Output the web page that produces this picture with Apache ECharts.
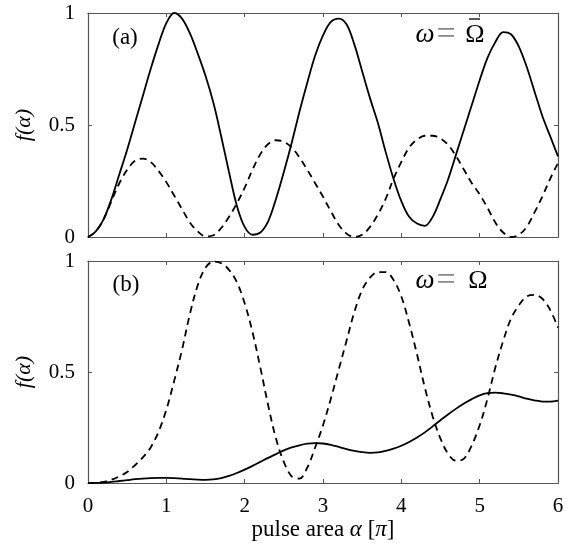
<!DOCTYPE html>
<html>
<head>
<meta charset="utf-8">
<script src="https://cdn.jsdelivr.net/npm/echarts@6/dist/echarts.min.js"></script>
<style>
  html, body { margin: 0; padding: 0; background: #fff; }
  #chart { width: 575px; height: 543px; }
</style>
</head>
<body>
<div id="chart"></div>
<script>
// pulse area alpha in units of pi, sampled every 0.1
var alphaVals = [0.0, 0.1, 0.2, 0.3, 0.4, 0.5, 0.6, 0.7, 0.8, 0.9,
  1.0, 1.1, 1.2, 1.3, 1.4, 1.5, 1.6, 1.7, 1.8, 1.9,
  2.0, 2.1, 2.2, 2.3, 2.4, 2.5, 2.6, 2.7, 2.8, 2.9,
  3.0, 3.1, 3.2, 3.3, 3.4, 3.5, 3.6, 3.7, 3.8, 3.9,
  4.0, 4.1, 4.2, 4.3, 4.4, 4.5, 4.6, 4.7, 4.8, 4.9,
  5.0, 5.1, 5.2, 5.3, 5.4, 5.5, 5.6, 5.7, 5.8, 5.9, 6.0];

// panel (a): omega = Omega-bar
var solidA = [0, 0.025, 0.08, 0.17, 0.28, 0.39, 0.51, 0.63, 0.75, 0.86,
  0.955, 1.00, 0.975, 0.91, 0.82, 0.72, 0.60, 0.45, 0.29, 0.14,
  0.045, 0.01, 0.02, 0.07, 0.17, 0.29, 0.42, 0.56, 0.69, 0.81,
  0.90, 0.96, 0.975, 0.95, 0.86, 0.74, 0.62, 0.51, 0.38, 0.26,
  0.16, 0.09, 0.06, 0.05, 0.09, 0.17, 0.26, 0.37, 0.48, 0.59,
  0.70, 0.80, 0.87, 0.915, 0.905, 0.85, 0.76, 0.65, 0.54, 0.45, 0.36];
var dashedA = [0, 0.025, 0.08, 0.16, 0.24, 0.30, 0.34, 0.35, 0.335, 0.295,
  0.245, 0.185, 0.125, 0.065, 0.025, 0.003, 0.008, 0.04, 0.09, 0.15,
  0.22, 0.30, 0.37, 0.415, 0.432, 0.425, 0.40, 0.355, 0.30, 0.24,
  0.18, 0.115, 0.055, 0.015, 0.0, 0.01, 0.045, 0.10, 0.17, 0.26,
  0.335, 0.40, 0.435, 0.452, 0.452, 0.44, 0.41, 0.36, 0.30, 0.24,
  0.19, 0.13, 0.065, 0.02, 0.0, 0.01, 0.045, 0.11, 0.18, 0.26, 0.33];

// panel (b): omega = Omega
var solidB = [0, 0.0005, 0.002, 0.005, 0.009, 0.013, 0.017, 0.02, 0.022, 0.023,
  0.023, 0.022, 0.02, 0.017, 0.015, 0.014, 0.016, 0.022, 0.032, 0.045,
  0.06, 0.077, 0.095, 0.113, 0.13, 0.147, 0.16, 0.17, 0.177, 0.18,
  0.178, 0.172, 0.163, 0.153, 0.145, 0.139, 0.136, 0.138, 0.145, 0.155,
  0.168, 0.185, 0.205, 0.228, 0.255, 0.283, 0.31, 0.335, 0.358, 0.378,
  0.395, 0.405, 0.407, 0.404, 0.398, 0.39, 0.38, 0.372, 0.367, 0.367, 0.371];
var dashedB = [0, 0.001, 0.005, 0.015, 0.03, 0.05, 0.08, 0.115, 0.16, 0.23,
  0.33, 0.46, 0.60, 0.76, 0.89, 0.97, 0.997, 0.99, 0.96, 0.905,
  0.81, 0.68, 0.52, 0.35, 0.20, 0.095, 0.03, 0.02, 0.07, 0.16,
  0.26, 0.38, 0.51, 0.64, 0.77, 0.87, 0.925, 0.95, 0.95, 0.915,
  0.84, 0.72, 0.58, 0.43, 0.30, 0.20, 0.13, 0.10, 0.11, 0.17,
  0.26, 0.38, 0.52, 0.64, 0.74, 0.80, 0.84, 0.847, 0.83, 0.78, 0.70];

var xTicks = [0, 1, 2, 3, 4, 5, 6];
var yTicks = [0, 0.5, 1];

var font = 'Liberation Serif';
var frameColor = '#555';

function pairs(ys) {
  return alphaVals.map(function (x, i) { return [x, ys[i]]; });
}

function xAx(grid, pos, showLabel) {
  return {
    type: 'value', gridIndex: grid, position: pos,
    min: xTicks[0], max: xTicks[xTicks.length - 1], interval: 1,
    axisLine: { show: true, onZero: false, lineStyle: { color: frameColor, width: 1.2 } },
    axisTick: { show: true, inside: true, length: 4, lineStyle: { color: frameColor } },
    axisLabel: { show: showLabel, color: '#000', fontFamily: font, fontSize: 21, margin: 13 },
    splitLine: { show: false }
  };
}

function yAx(grid, pos, showLabel) {
  return {
    type: 'value', gridIndex: grid, position: pos,
    min: yTicks[0], max: yTicks[yTicks.length - 1], interval: 0.5,
    axisLine: { show: true, onZero: false, lineStyle: { color: frameColor, width: 1.2 } },
    axisTick: { show: true, inside: true, length: 4, lineStyle: { color: frameColor } },
    axisLabel: {
      show: showLabel, color: '#000', fontFamily: font, fontSize: 21, margin: 13,
      formatter: function (v) { return String(v); }
    },
    splitLine: { show: false },
    name: showLabel ? 'f(\u03b1)' : '',
    nameLocation: 'middle', nameGap: 53, nameRotate: 90,
    nameTextStyle: { color: '#000', fontFamily: font, fontSize: 22, fontStyle: 'italic' }
  };
}

var bottomX = xAx(1, 'bottom', true);
bottomX.name = 'pulse area {i|\u03b1} [{i|\u03c0}]';
bottomX.nameLocation = 'middle';
bottomX.nameGap = 35;
bottomX.nameTextStyle = {
  color: '#000', fontFamily: font, fontSize: 23,
  rich: { i: { fontFamily: font, fontSize: 23, fontStyle: 'italic', color: '#000' } }
};

function line(xi, yi, ys, dashed) {
  return {
    type: 'line', xAxisIndex: xi, yAxisIndex: yi,
    data: pairs(ys), smooth: 0.35, showSymbol: false, silent: true,
    lineStyle: { color: '#000', width: 1.8, type: dashed ? [7, 5] : 'solid' }
  };
}

function txt(s, x, y, size, color, italic) {
  return {
    type: 'text', x: x, y: y, silent: true,
    style: {
      text: s, fill: color,
      font: (italic ? 'italic ' : '') + size + 'px "' + font + '"',
      textAlign: 'center', textVerticalAlign: 'middle'
    }
  };
}

// omega = Omega annotation, pieces placed like the original
function omegaLabel(y, omX) {
  return [
    txt('\u03c9', 425, y, 27, '#000', true),
    txt('=', 446, y, 34, '#888', false),
    txt('\u03a9', omX, y, 26, '#000', false)
  ];
}

var graphics = [
  txt('(a)', 125, 38, 23, '#000', false),
  txt('(b)', 126, 285, 23, '#000', false),
  // bar over the Omega in panel (a)
  {
    type: 'line', silent: true,
    shape: { x1: 469, y1: 19, x2: 480, y2: 19 },
    style: { stroke: '#000', lineWidth: 1.3 }
  }
].concat(omegaLabel(35, 475), omegaLabel(281, 478));

var chart = echarts.init(document.getElementById('chart'));
chart.setOption({
  animation: false,
  backgroundColor: '#fff',
  grid: [
    { left: 88, top: 13, width: 470, height: 224 },
    { left: 88, top: 261, width: 470, height: 222 }
  ],
  xAxis: [xAx(0, 'bottom', false), xAx(0, 'top', false), bottomX, xAx(1, 'top', false)],
  yAxis: [yAx(0, 'left', true), yAx(0, 'right', false), yAx(1, 'left', true), yAx(1, 'right', false)],
  series: [
    line(0, 0, solidA, false),
    line(0, 0, dashedA, true),
    line(2, 2, solidB, false),
    line(2, 2, dashedB, true)
  ],
  graphic: graphics
});
</script>
</body>
</html>
